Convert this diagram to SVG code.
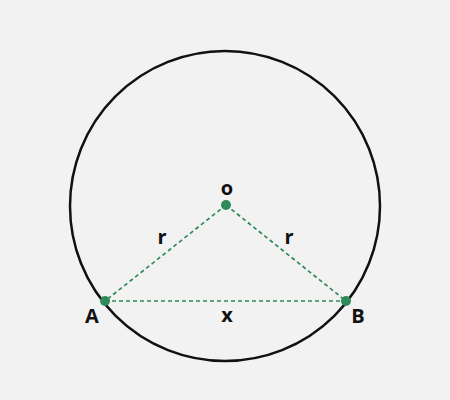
<svg xmlns="http://www.w3.org/2000/svg" width="450" height="400" viewBox="0 0 450 400">
<style>
.lbl{font-family:"Open Sans","Liberation Sans",sans-serif;font-size:20px;font-weight:bold;fill:#111;text-anchor:middle}
.dash{stroke:#2e8b57;stroke-width:1.7;stroke-dasharray:4 3;fill:none}
.pt{fill:#2e8b57}
</style>
<rect width="450" height="400" fill="#f2f2f2"/>
<g id="circle"><circle cx="225" cy="206" r="155" fill="none" stroke="#111" stroke-width="2.5"/></g>
<g id="connectors">
<line class="dash" x1="226" y1="205" x2="105" y2="301"/>
<line class="dash" x1="226" y1="205" x2="346" y2="301"/>
<line class="dash" x1="105" y1="301" x2="346" y2="301"/>
</g>
<g id="O"><circle class="pt" cx="226" cy="205" r="5"/><text class="lbl" x="227" y="195">o</text></g>
<g id="A"><circle class="pt" cx="105" cy="301" r="5"/><text class="lbl" x="92" y="323">A</text></g>
<g id="B"><circle class="pt" cx="346" cy="301" r="5"/><text class="lbl" x="358" y="323">B</text></g>
<g id="labels">
<text class="lbl" x="162" y="244">r</text>
<text class="lbl" x="289" y="244">r</text>
<text class="lbl" x="227" y="322">x</text>
</g>
</svg>
